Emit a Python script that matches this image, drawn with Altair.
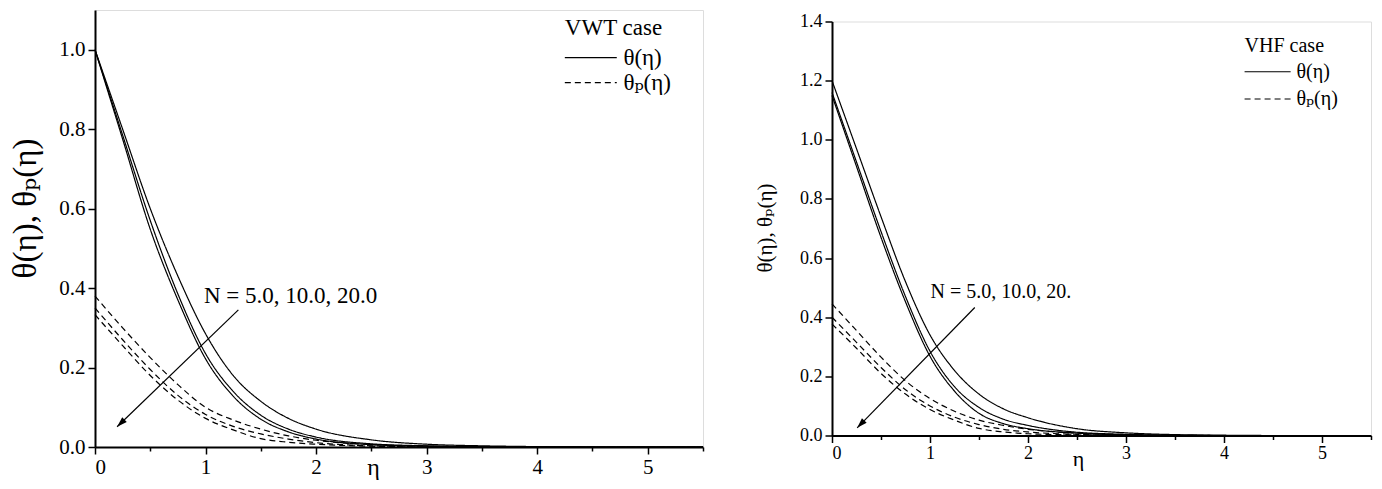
import altair as alt
import pandas as pd

# ---------------- data ----------------
eta = [0, 0.25, 0.5, 0.75, 1.0, 1.25, 1.5, 1.75, 2.0, 2.5, 3.0, 3.5, 4.0, 4.5, 5.0, 5.5]

# VWT case
vwt_theta_N5 = [1.0, 0.80, 0.60, 0.43, 0.285, 0.18, 0.115, 0.072, 0.045, 0.018, 0.007, 0.003, 0.001, 0, 0, 0]
vwt_theta_N10 = [1.0, 0.785, 0.57, 0.385, 0.235, 0.14, 0.08, 0.045, 0.025, 0.008, 0.003, 0.001, 0, 0, 0, 0]
vwt_theta_N20 = [1.0, 0.775, 0.548, 0.37, 0.222, 0.128, 0.07, 0.038, 0.02, 0.006, 0.002, 0, 0, 0, 0, 0]
vwt_thetap_N5 = [0.38, 0.30, 0.225, 0.157, 0.10, 0.068, 0.045, 0.028, 0.017, 0.006, 0.002, 0.001, 0, 0, 0, 0]
vwt_thetap_N10 = [0.35, 0.27, 0.195, 0.13, 0.082, 0.052, 0.033, 0.02, 0.011, 0.003, 0.001, 0, 0, 0, 0, 0]
vwt_thetap_N20 = [0.333, 0.255, 0.18, 0.118, 0.072, 0.043, 0.021, 0.012, 0.007, 0.002, 0, 0, 0, 0, 0, 0]

# VHF case
vhf_theta_N5 = [1.2, 0.97, 0.74, 0.52, 0.34, 0.22, 0.14, 0.09, 0.06, 0.023, 0.009, 0.003, 0.001, 0, 0, 0]
vhf_theta_N10 = [1.16, 0.925, 0.69, 0.47, 0.285, 0.165, 0.095, 0.055, 0.034, 0.011, 0.004, 0.001, 0, 0, 0, 0]
vhf_theta_N20 = [1.15, 0.91, 0.67, 0.452, 0.268, 0.15, 0.075, 0.04, 0.023, 0.008, 0.002, 0, 0, 0, 0, 0]
vhf_thetap_N5 = [0.445, 0.355, 0.265, 0.185, 0.125, 0.082, 0.052, 0.034, 0.021, 0.008, 0.003, 0.001, 0, 0, 0, 0]
vhf_thetap_N10 = [0.40, 0.315, 0.23, 0.155, 0.10, 0.062, 0.037, 0.021, 0.012, 0.004, 0.001, 0, 0, 0, 0, 0]
vhf_thetap_N20 = [0.377, 0.295, 0.21, 0.14, 0.088, 0.052, 0.024, 0.012, 0.006, 0.002, 0, 0, 0, 0, 0, 0]

x_ticks = [0, 0.5, 1, 1.5, 2, 2.5, 3, 3.5, 4, 4.5, 5, 5.5]
y_ticks_vwt = [round(0.1 * i, 1) for i in range(12)]
y_ticks_vhf = [round(0.1 * i, 1) for i in range(15)]

legend_labels = ["θ(η)", "θₚ(η)"]
y_title = "θ(η), θₚ(η)"
x_title = "η"
annot_vwt = "N = 5.0, 10.0, 20.0"
annot_vhf = "N = 5.0, 10.0, 20."

FONT = "Liberation Serif, DejaVu Serif, serif"
DASH = [6, 4]


def long_df(sol, dash):
    rows = []
    for name, arr in zip(["5", "10", "20"], sol):
        for e, v in zip(eta, arr):
            rows.append({"eta": e, "value": v, "series": "s" + name, "kind": "solid"})
    for name, arr in zip(["5", "10", "20"], dash):
        for e, v in zip(eta, arr):
            rows.append({"eta": e, "value": v, "series": "d" + name, "kind": "dash"})
    return pd.DataFrame(rows)


def panel(df, ymax, yticks, w, h, lay):
    xs = alt.Scale(domain=[0, 5.5], nice=False, zero=False)
    ys = alt.Scale(domain=[0, ymax], nice=False, zero=False)
    xaxis = alt.Axis(
        values=x_ticks,
        labelExpr="datum.value % 1 == 0 ? format(datum.value, 'd') : ''",
        tickSize={"condition": {"test": "datum.value % 1 == 0", "value": 7}, "value": 4},
        tickWidth=1.5, tickColor="black", domainColor="black", domainWidth=2,
        labelFont=FONT, labelFontSize=lay["tick_fs"], labelColor="black", labelPadding=2,
        grid=False, title=x_title, titleFont=FONT, titleFontSize=lay["xt_fs"],
        titleFontWeight="normal", titleColor="black", titleX=lay["xt_x"], titleY=lay["xt_y"],
        titleAlign="center", titleBaseline="middle",
    )
    yaxis = alt.Axis(
        values=yticks,
        labelExpr="round(datum.value * 10) % 2 == 0 ? format(datum.value, '.1f') : ''",
        tickSize={"condition": {"test": "round(datum.value * 10) % 2 == 0", "value": 7}, "value": 4},
        tickWidth=1.5, tickColor="black", domainColor="black", domainWidth=2,
        labelFont=FONT, labelFontSize=lay["tick_fs"], labelColor="black", labelPadding=3,
        grid=False, title=y_title, titleFont=FONT, titleFontSize=lay["yt_fs"],
        titleFontWeight="normal", titleColor="black", titleX=lay["yt_x"], titleY=lay["yt_y"],
        titleAlign="center", titleBaseline="middle", titleAngle=270,
    )
    lines = alt.Chart(df).mark_line(color="black", strokeWidth=1.2, interpolate="monotone").encode(
        x=alt.X("eta:Q", scale=xs, axis=xaxis),
        y=alt.Y("value:Q", scale=ys, axis=yaxis),
        strokeDash=alt.StrokeDash("kind:N", scale=alt.Scale(domain=["solid", "dash"], range=[[1, 0], DASH]), legend=None),
        detail="series:N",
    )

    # legend (drawn manually)
    leg_title = alt.Chart(pd.DataFrame({"x": [lay["leg_x"]], "y": [lay["leg_y0"]], "t": [lay["leg_title"]]})).mark_text(
        align="left", baseline="middle", font=FONT, fontSize=lay["leg_fs"], color="black"
    ).encode(x=alt.X("x:Q", scale=xs), y=alt.Y("y:Q", scale=ys), text="t:N")
    leg_df = pd.DataFrame({
        "x": [lay["leg_x"]] * 2, "x2": [lay["leg_x2"]] * 2,
        "y": [lay["leg_y1"], lay["leg_y2"]], "kind": ["solid", "dash"],
        "lx": [lay["leg_lx"]] * 2, "t": legend_labels,
    })
    leg_rules = alt.Chart(leg_df).mark_rule(color="black", strokeWidth=1.2).encode(
        x=alt.X("x:Q", scale=xs), x2="x2:Q", y=alt.Y("y:Q", scale=ys),
        strokeDash=alt.StrokeDash("kind:N", scale=alt.Scale(domain=["solid", "dash"], range=[[1, 0], DASH]), legend=None),
    )
    leg_text = alt.Chart(leg_df).mark_text(
        align="left", baseline="middle", font=FONT, fontSize=lay["leg_fs"], color="black"
    ).encode(x=alt.X("lx:Q", scale=xs), y=alt.Y("y:Q", scale=ys), text="t:N")

    # annotation with arrow
    ann_text = alt.Chart(pd.DataFrame({"x": [lay["ann_x"]], "y": [lay["ann_y"]], "t": [lay["ann"]]})).mark_text(
        align="left", baseline="middle", font=FONT, fontSize=lay["ann_fs"], color="black"
    ).encode(x=alt.X("x:Q", scale=xs), y=alt.Y("y:Q", scale=ys), text="t:N")
    arr_df = pd.DataFrame({"x": [lay["arr"][0][0], lay["arr"][1][0]], "y": [lay["arr"][0][1], lay["arr"][1][1]]})
    arr_line = alt.Chart(arr_df).mark_line(color="black", strokeWidth=1.2).encode(
        x=alt.X("x:Q", scale=xs), y=alt.Y("y:Q", scale=ys)
    )
    head = alt.Chart(arr_df.iloc[[1]]).mark_point(
        shape="M0,0L0.32,1L-0.32,1Z", filled=True, color="black", opacity=1, size=420, angle=lay["arr_angle"]
    ).encode(x=alt.X("x:Q", scale=xs), y=alt.Y("y:Q", scale=ys))

    return alt.layer(lines, leg_title, leg_rules, leg_text, ann_text, arr_line, head).properties(width=w, height=h)


lay_vwt = dict(tick_fs=21, xt_fs=24, xt_x=278, xt_y=20, yt_fs=33, yt_x=-70, yt_y=198,
               leg_title="VWT case", leg_fs=23, leg_x=4.25, leg_x2=4.72, leg_y0=1.055, leg_y1=0.98, leg_y2=0.917,
               leg_lx=4.78, ann=annot_vwt, ann_fs=23, ann_x=0.986, ann_y=0.38,
               arr=((1.297, 0.345), (0.20, 0.051)), arr_angle=226)
lay_vhf = dict(tick_fs=18, xt_fs=22, xt_x=246, xt_y=23, yt_fs=21, yt_x=-67, yt_y=206,
               leg_title="VHF case", leg_fs=20, leg_x=4.21, leg_x2=4.68, leg_y0=1.318, leg_y1=1.23, leg_y2=1.138,
               leg_lx=4.74, ann=annot_vhf, ann_fs=20, ann_x=1.005, ann_y=0.484,
               arr=((1.457, 0.433), (0.257, 0.026)), arr_angle=224)

left = panel(long_df([vwt_theta_N5, vwt_theta_N10, vwt_theta_N20], [vwt_thetap_N5, vwt_thetap_N10, vwt_thetap_N20]),
             1.1, y_ticks_vwt, 608, 437, lay_vwt)
right = panel(long_df([vhf_theta_N5, vhf_theta_N10, vhf_theta_N20], [vhf_thetap_N5, vhf_thetap_N10, vhf_thetap_N20]),
              1.4, y_ticks_vhf, 539, 414, lay_vhf)

chart = alt.hconcat(left, right, spacing=129, bounds="flush", center=True).properties(
    padding={"left": 0, "top": 1, "right": 0, "bottom": 0}
).configure_view(stroke=None).configure(background="white", font=FONT)

chart.save("out.html", embed_options={"renderer": "svg", "actions": False})
